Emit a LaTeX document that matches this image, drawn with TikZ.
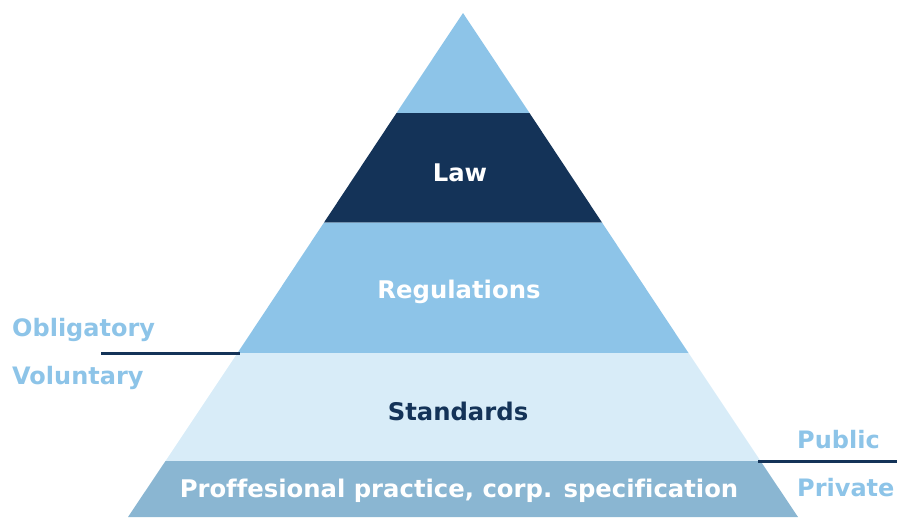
\documentclass[tikz,border=0pt]{standalone}
\usepackage{fontspec}
\setmainfont[Ligatures=NoCommon]{DejaVu Sans}
\definecolor{lblue}{HTML}{8DC4E8}
\definecolor{navy}{HTML}{143358}
\definecolor{pale}{HTML}{D8ECF8}
\definecolor{steel}{HTML}{8AB6D2}
\tikzset{
  lbl/.style={font=\bfseries\fontsize{24.3}{28}\selectfont, inner sep=0pt},
  side/.style={font=\bfseries\fontsize{24}{28}\selectfont, text=lblue, anchor=west, inner sep=0pt},
  divider/.style={draw=navy, line width=3pt}
}
\begin{document}
\begin{tikzpicture}[x=1pt,y=-1pt]
\useasboundingbox (0,0) rectangle (897,517);
% pyramid: apex (463,13), slope 0.6645
\fill[lblue] (463,13) -- (396.5,113) -- (529.5,113) -- cycle;
\fill[navy] (396.5,113) -- (324,222.5) -- (602,222.5) -- (529.5,113) -- cycle;
\fill[lblue] (324,222.5) -- (237.5,353) -- (688.5,353) -- (602,222.5) -- cycle;
\fill[pale] (237.5,353) -- (165.5,461) -- (760.5,461) -- (688.5,353) -- cycle;
\fill[steel] (165.5,461) -- (128,517) -- (798,517) -- (760.5,461) -- cycle;
\node[lbl, text=white] (law) at (460,173) {Law};
\node[lbl, text=white] (reg) at (459,292) {Regulations};
\node[lbl, text=navy] (std) at (458,411) {Standards};
\node[lbl, text=white] (prof) at (459,491) {Proffesional practice, corp. specification};
\node[side] (obl) at (12,330) {Obligatory};
\node[side] (vol) at (12,378) {Voluntary};
\node[side] (pub) at (797,440) {Public};
\node[side] (pri) at (797,488) {Private};
\coordinate (l1) at (101,353);
\coordinate (l2) at (240,353);
\coordinate (r1) at (758,461);
\coordinate (r2) at (897,461);
\draw[divider] (l1) -- (l2);
\draw[divider] (r1) -- (r2);
\end{tikzpicture}
\end{document}
